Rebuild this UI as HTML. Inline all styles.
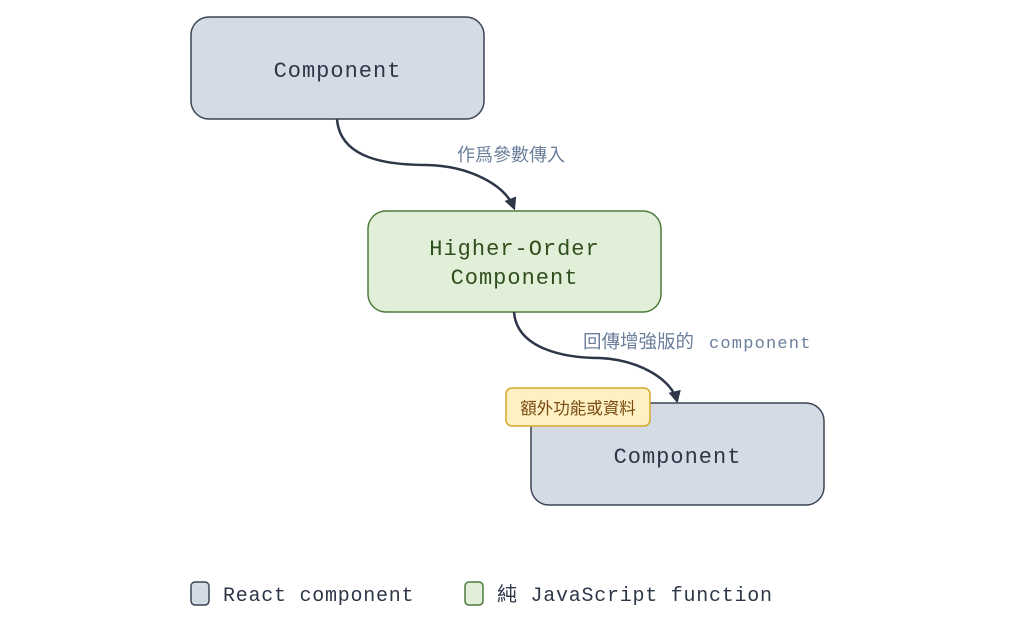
<!DOCTYPE html>
<html><head><meta charset="utf-8"><style>
body{margin:0;background:#fff;}
svg text{font-family:"Liberation Mono","Noto Sans CJK TC",monospace;}
</style></head><body>
<svg width="1024" height="629" viewBox="0 0 1024 629" xmlns="http://www.w3.org/2000/svg">
<defs><marker id="a" viewBox="0 0 10 10" refX="8" refY="5" markerWidth="5" markerHeight="5" orient="auto"><path d="M0,0 L10,5 L0,10 z" fill="#2d3748"/></marker></defs>
<rect x="191" y="17" width="293" height="102" rx="18" fill="#d5dbe5" stroke="#3a4556" stroke-width="1.5"/>
<text x="337.5" y="77" font-size="22" letter-spacing="1" text-anchor="middle" fill="#2d3748">Component</text>
<rect x="368" y="211" width="293" height="101" rx="18" fill="#e1efd8" stroke="#4f7a3a" stroke-width="1.5"/>
<text x="514.5" y="255" font-size="22" letter-spacing="1" text-anchor="middle" fill="#2f4f1e">Higher-Order</text>
<text x="514.5" y="284" font-size="22" letter-spacing="1" text-anchor="middle" fill="#2f4f1e">Component</text>
<rect x="531" y="403" width="293" height="102" rx="18" fill="#d5dbe5" stroke="#3a4556" stroke-width="1.5"/>
<text x="677.5" y="463" font-size="22" letter-spacing="1" text-anchor="middle" fill="#2d3748">Component</text>
<path d="M337,119 C340,160 390,165 427,165 C470,166 505,185 514,208" fill="none" stroke="#2d3748" stroke-width="2.5" marker-end="url(#a)"/>
<path d="M514,312 C517,350 567,358 600,358 C640,360 672,380 677,401" fill="none" stroke="#2d3748" stroke-width="2.5" marker-end="url(#a)"/>
<text x="457" y="161" font-size="18" fill="#6b7f9b" style="font-family:'Noto Sans CJK TC',sans-serif">作爲參數傳入</text>
<text x="583" y="348" font-size="18.5" fill="#6b7f9b" style="font-family:'Noto Sans CJK TC',sans-serif">回傳增強版的</text>
<text x="709" y="348" font-size="17" letter-spacing="1.2" fill="#6b7f9b">component</text>
<rect x="506" y="388" width="144" height="38" rx="6" fill="#fdf0c2" stroke="#d8a72a" stroke-width="1.5"/>
<text x="578" y="414" font-size="16.5" text-anchor="middle" fill="#7a4a12" style="font-family:'Noto Sans CJK TC',sans-serif">額外功能或資料</text>
<rect x="191" y="582" width="18" height="23" rx="4" fill="#d5dbe5" stroke="#3a4556" stroke-width="1.5"/>
<text x="223" y="601" font-size="20" letter-spacing="0.75" fill="#2d3748">React component</text>
<rect x="465" y="582" width="18" height="23" rx="4" fill="#e1efd8" stroke="#4f7a3a" stroke-width="1.5"/>
<text x="497" y="601" font-size="20" letter-spacing="0.75" fill="#2d3748">純 JavaScript function</text>
</svg>
</body></html>
